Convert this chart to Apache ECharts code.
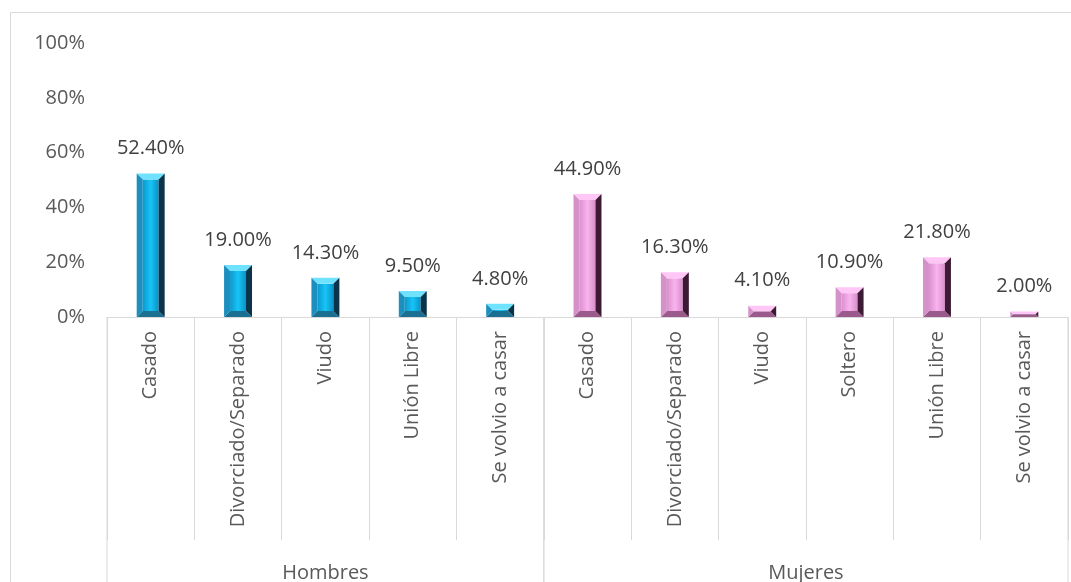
<!DOCTYPE html>
<html>
<head>
<meta charset="utf-8">
<script src="https://cdn.jsdelivr.net/npm/echarts@6/dist/echarts.min.js"></script>
<style>
html,body{margin:0;padding:0;background:#fff;}
#chart{width:1071px;height:582px;}
</style>
</head>
<body>
<div id="chart"></div>
<script>
// ---- data ----
const categories = ['Casado','Divorciado/Separado','Viudo','Unión Libre','Se volvio a casar',
                    'Casado','Divorciado/Separado','Viudo','Soltero','Unión Libre','Se volvio a casar'];
const hombresValues = [0.524, 0.190, 0.143, 0.095, 0.048];
const mujeresValues = [0.449, 0.163, 0.041, 0.109, 0.218, 0.020];
const groupNames = ['Hombres', 'Mujeres'];
const yTicks = [0, 0.2, 0.4, 0.6, 0.8, 1.0];

// ---- build ----
const barData = [];
hombresValues.forEach((v, i) => barData.push([i, v, 0]));
mujeresValues.forEach((v, i) => barData.push([hombresValues.length + i, v, 1]));
const groupData = [
  [0, 0, hombresValues.length - 1, 0],
  [hombresValues.length, 0, hombresValues.length + mujeresValues.length - 1, 1]
];

const palettes = [
  { faceL: '#0b98cf', faceM: '#18c4f6', faceR: '#0a92c6', top: '#6fe2ff', left: '#1c8fbf', right: '#0b344a', bottom: '#1b6f90' },
  { faceL: '#dc8fcf', faceM: '#f8b4ee', faceR: '#d88ccb', top: '#ffc6f6', left: '#d592c9', right: '#3c1a34', bottom: '#9a5a8c' }
];

function renderBar(params, api) {
  const i = api.value(0), v = api.value(1), g = api.value(2);
  const top = api.coord([i, v]);
  const base = api.coord([i, 0]);
  const bw = api.size([1, 0])[0] * 0.32;
  const x0 = top[0] - bw / 2, x1 = top[0] + bw / 2, y0 = top[1], y1 = base[1];
  const h = y1 - y0;
  const b = Math.min(6, h / 2, bw / 2);
  const p = palettes[g];
  const face = new echarts.graphic.LinearGradient(0, 0, 1, 0, [
    { offset: 0, color: p.faceL }, { offset: 0.5, color: p.faceM }, { offset: 1, color: p.faceR }
  ]);
  return {
    type: 'group',
    children: [
      { type: 'rect', shape: { x: x0 + b, y: y0 + b, width: bw - 2 * b, height: Math.max(0, h - 2 * b) }, style: { fill: face } },
      { type: 'polygon', shape: { points: [[x0, y0], [x1, y0], [x1 - b, y0 + b], [x0 + b, y0 + b]] }, style: { fill: p.top } },
      { type: 'polygon', shape: { points: [[x0, y1], [x1, y1], [x1 - b, y1 - b], [x0 + b, y1 - b]] }, style: { fill: p.bottom } },
      { type: 'polygon', shape: { points: [[x0, y0], [x0 + b, y0 + b], [x0 + b, y1 - b], [x0, y1]] }, style: { fill: p.left } },
      { type: 'polygon', shape: { points: [[x1, y0], [x1 - b, y0 + b], [x1 - b, y1 - b], [x1, y1]] }, style: { fill: p.right } },
      { type: 'text', style: { x: top[0], y: y0 - 25, text: (v * 100).toFixed(2) + '%', align: 'center', verticalAlign: 'middle',
          fill: '#404040', font: '20px "Open Sans"' } }
    ]
  };
}

function renderGroup(params, api) {
  const s = api.value(0), e = api.value(2), g = api.value(3);
  const bw = api.size([1, 0])[0];
  const ps = api.coord([s, 0]);
  const pe = api.coord([e, 0]);
  const left = ps[0] - bw / 2, right = pe[0] + bw / 2, y = ps[1];
  return {
    type: 'group',
    children: [
      { type: 'line', shape: { x1: left, y1: y, x2: left, y2: y + 400 }, style: { stroke: '#d9d9d9', lineWidth: 1 } },
      { type: 'line', shape: { x1: right, y1: y, x2: right, y2: y + 400 }, style: { stroke: '#d9d9d9', lineWidth: 1 } },
      { type: 'text', style: { x: (left + right) / 2, y: y + 256, text: groupNames[g], align: 'center', verticalAlign: 'middle',
          fill: '#595959', font: '20px "Open Sans"' } }
    ]
  };
}

const chart = echarts.init(document.getElementById('chart'));
chart.setOption({
  animation: false,
  backgroundColor: '#fff',
  graphic: [{
    type: 'rect', left: 8, top: 10, z: -10,
    shape: { width: 1100, height: 620 },
    style: { fill: 'none', stroke: '#d9d9d9', lineWidth: 1 }
  }],
  grid: { left: 107, right: 3, top: 43, bottom: 265 },
  xAxis: {
    type: 'category',
    data: categories,
    axisLine: { lineStyle: { color: '#d9d9d9' } },
    axisTick: { show: true, length: 223, lineStyle: { color: '#d9d9d9' } },
    axisLabel: { interval: 0, rotate: 90, margin: 14, color: '#595959', fontSize: 20, fontFamily: 'Open Sans' }
  },
  yAxis: {
    type: 'value',
    min: yTicks[0], max: yTicks[yTicks.length - 1], interval: 0.2,
    axisLine: { show: false }, axisTick: { show: false },
    splitLine: { show: false },
    axisLabel: { margin: 22, color: '#595959', fontSize: 20, fontFamily: 'Open Sans',
      formatter: v => Math.round(v * 100) + '%' }
  },
  series: [
    { type: 'custom', renderItem: renderBar, data: barData, encode: { x: 0, y: 1 }, clip: false },
    { type: 'custom', renderItem: renderGroup, data: groupData, encode: { x: 0, y: 1 }, clip: false, silent: true }
  ]
});
</script>
</body>
</html>
